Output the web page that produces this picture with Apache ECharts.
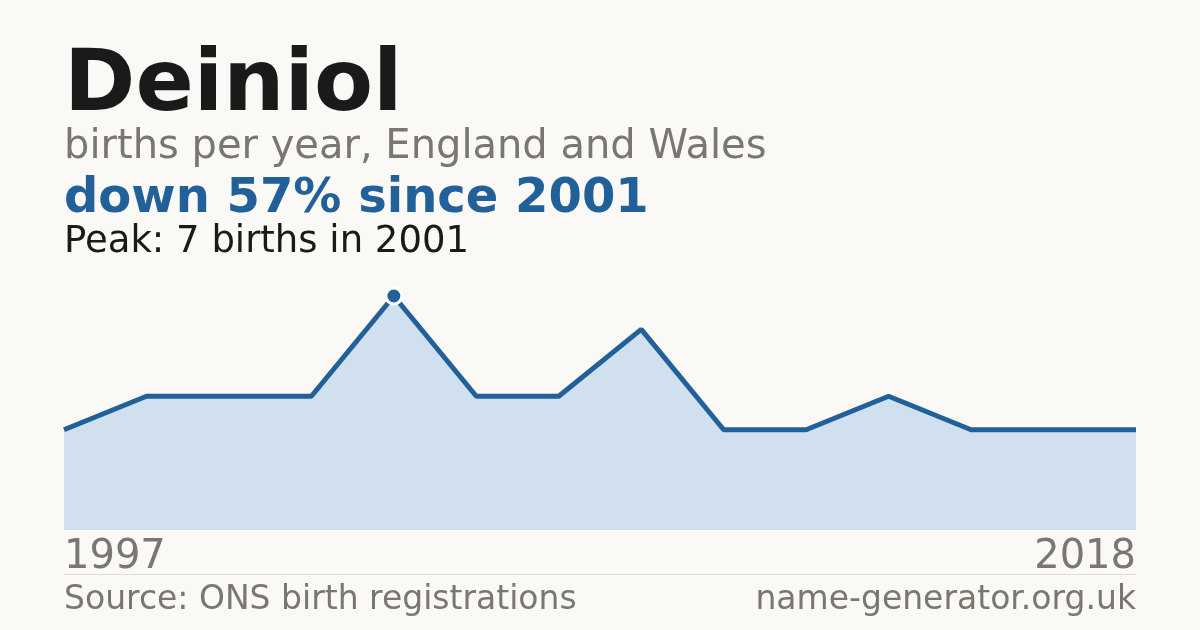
<!DOCTYPE html>
<html>
<head>
    <meta charset="utf-8">
    <title>Deiniol</title>
    <script src="https://cdn.jsdelivr.net/npm/echarts@6/dist/echarts.min.js"></script>
    <style>
        html, body { margin: 0; padding: 0; background: #faf9f5; }
        #main { width: 1200px; height: 630px; }
    </style>
</head>
<body>
<div id="main"></div>
<script type="text/javascript">
    // years with data (only first and last are labelled)
    var years = ['1997', '1998', '1999', '2000', '2001', '2002', '2003', '2004', '2005', '2006', '2007', '2008', '2013', '2018'];
    var births = [3, 4, 4, 4, 7, 4, 4, 6, 3, 3, 4, 3, 3, 3];
    var peakIndex = 4;

    var font = '"DejaVu Sans", Verdana, sans-serif';
    var grey = '#7a7670';
    var blue = '#22609a';

    var myChart = echarts.init(document.getElementById('main'));

    var option = {
        backgroundColor: '#faf9f5',
        animation: false,
        grid: { left: 64, right: 64, top: 296, bottom: 100 },
        xAxis: {
            type: 'category',
            data: years,
            boundaryGap: false,
            axisLine: { show: false },
            axisTick: { show: false },
            axisLabel: { show: false },
            splitLine: { show: false }
        },
        yAxis: {
            type: 'value',
            min: 0,
            max: 7,
            show: false
        },
        series: [{
            type: 'line',
            data: births,
            symbol: 'none',
            lineStyle: { color: blue, width: 5 },
            areaStyle: { color: '#d0e0ef', opacity: 1 },
            markPoint: {
                symbol: 'circle',
                symbolSize: 16,
                itemStyle: { color: blue, borderColor: '#ffffff', borderWidth: 3 },
                label: { show: false },
                data: [{ coord: [peakIndex, births[peakIndex]] }]
            }
        }],
        graphic: [
            { type: 'text', left: 64, top: 45, style: { text: 'Deiniol', font: 'bold 86px ' + font, fill: '#1a1a1a' } },
            { type: 'text', left: 64, top: 128, style: { text: 'births per year, England and Wales', font: '40px ' + font, fill: grey } },
            { type: 'text', left: 64, top: 176, style: { text: 'down 57% since ' + years[peakIndex], font: 'bold 48px ' + font, fill: blue } },
            { type: 'text', left: 64, top: 224, style: { text: 'Peak: ' + births[peakIndex] + ' births in ' + years[peakIndex], font: '37px ' + font, fill: '#1a1a1a' } },
            { type: 'text', left: 64, top: 538, style: { text: years[0], font: '40px ' + font, fill: grey } },
            { type: 'text', right: 64, top: 538, style: { text: years[years.length - 1], font: '40px ' + font, fill: grey } },
            { type: 'rect', left: 64, top: 574, shape: { width: 1072, height: 1 }, style: { fill: '#e0dcd4' } },
            { type: 'text', left: 64, top: 584, style: { text: 'Source: ONS birth registrations', font: '33px ' + font, fill: grey } },
            { type: 'text', right: 64, top: 584, style: { text: 'name-generator.org.uk', font: '33px ' + font, fill: grey } }
        ]
    };

    myChart.setOption(option);
</script>
</body>
</html>
